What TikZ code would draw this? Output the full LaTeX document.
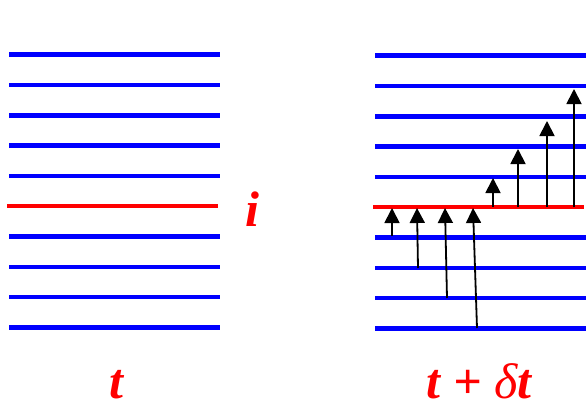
\documentclass[tikz,border=0pt]{standalone}
\usepackage{fontspec}
\setmainfont{Liberation Serif}
\usetikzlibrary{arrows.meta}

\begin{document}
\begin{tikzpicture}[x=1pt, y=-1pt,
  level/.style={line width=4.6pt, blue},
  tagged/.style={line width=4.6pt, red},
  jump/.style={line width=1.8pt, -{Triangle[width=15pt,length=15pt]}},
  lab/.style={red, font=\fontsize{50}{50}\selectfont\bfseries\itshape, anchor=base, inner sep=0pt}]
  \useasboundingbox (0,0) rectangle (588,410);
  % levels at time t
  \foreach \k in {0,...,4,6,7,8,9}
    \draw[level] (9,{54.7+30.3*\k}) -- (220,{54.7+30.3*\k});
  \draw[tagged] (7,206) -- (218,206);
  \node[lab] (idx) at (252,226) {i};
  \node[lab] (tnow) at (116,398) {t};
  % levels at time t + dt
  \foreach \k in {0,...,4,6,7,8,9}
    \draw[level] (375,{55.7+30.3*\k}) -- (586,{55.7+30.3*\k});
  \draw[tagged] (373,207) -- (584,207);
  \node[lab] (tnext) at (479,398) {t + \textnormal{\itshape δ}t};
  % jumps onto and off the tagged level
  \foreach \n/\xa/\ya/\xb/\yb in {1/392/236/392/208, 2/418/268/417/208,
      3/447/298/445/208, 4/477/328/473/208, 5/493/207/493/178,
      6/518/207/518/149, 7/547/207/547/121, 8/574/207/574/89} {
    \coordinate (lo\n) at (\xa,\ya);
    \coordinate (hi\n) at (\xb,\yb);
    \draw[jump] (lo\n) -- (hi\n);
  }
\end{tikzpicture}
\end{document}
